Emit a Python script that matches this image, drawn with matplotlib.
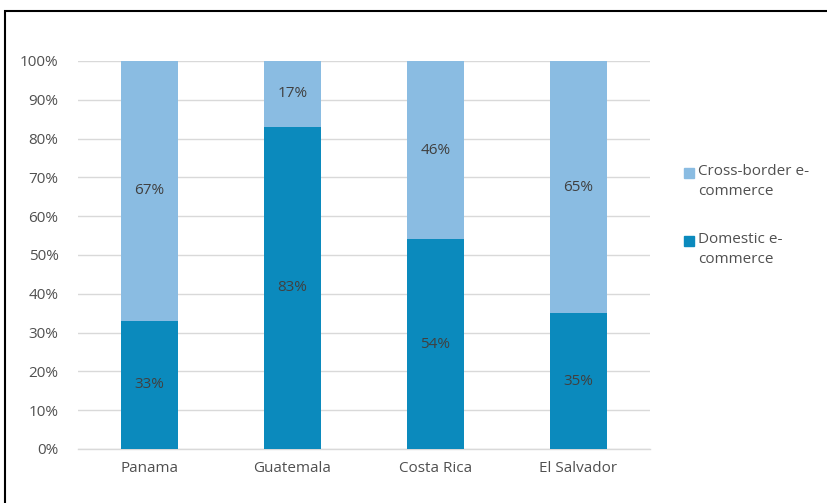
import matplotlib
matplotlib.use("Agg")
import matplotlib.pyplot as plt
from matplotlib.patches import Rectangle

countries = ["Panama", "Guatemala", "Costa Rica", "El Salvador"]
domestic = [33, 83, 54, 35]
cross_border = [67, 17, 46, 65]
series_names = ["Cross-border e-\ncommerce", "Domestic e-\ncommerce"]

dom_color = "#0B8ABD"
cross_color = "#8ABCE2"
txt = "#505050"

plt.rcParams['font.family'] = ['Open Sans', 'DejaVu Sans']

W, H = 827, 503
fig = plt.figure(figsize=(W/100, H/100), dpi=100)
ax = fig.add_axes([78/W, 1-449/H, 572/W, 388/H])

x = range(len(countries))
ax.bar(x, domestic, width=0.4, color=dom_color, zorder=3)
ax.bar(x, cross_border, width=0.4, bottom=domestic, color=cross_color, zorder=3)

for i in x:
    ax.text(i, domestic[i]/2, f"{domestic[i]}%", ha="center", va="center",
            color="#404040", fontsize=11, zorder=4)
    ax.text(i, domestic[i] + cross_border[i]/2, f"{cross_border[i]}%", ha="center",
            va="center", color="#404040", fontsize=11, zorder=4)

ax.set_xlim(-0.5, 3.5)
ax.set_ylim(0, 100)
ax.set_yticks(range(0, 101, 10))
ax.set_yticklabels([f"{v}%" for v in range(0, 101, 10)])
ax.set_xticks(list(x))
ax.set_xticklabels(countries)
ax.tick_params(length=0, labelsize=11, labelcolor=txt, pad=9)
ax.tick_params(axis="y", pad=14)
ax.yaxis.grid(True, color="#D9D9D9", linewidth=1, zorder=0)
for s in ["top", "right", "left"]:
    ax.spines[s].set_visible(False)
ax.spines["bottom"].set_color("#D9D9D9")
ax.spines["bottom"].set_linewidth(1)

# legend drawn by hand to match the looser line spacing
for name, col, ytop in zip(series_names, [cross_color, dom_color], [168, 236]):
    fig.patches.append(Rectangle((684/W, 1-(ytop+10)/H), 10/W, 10/H,
                                 transform=fig.transFigure, color=col))
    fig.text(698/W, 1-(ytop-4)/H, name, ha="left", va="top", fontsize=11,
             color=txt, linespacing=1.45)

fig.patches.append(Rectangle((5/W, -0.1), 1.2, 1.1 - 11/H,
                             transform=fig.transFigure, fill=False,
                             edgecolor="black", linewidth=1.5, zorder=10))

fig.savefig("out.png", dpi=100)
